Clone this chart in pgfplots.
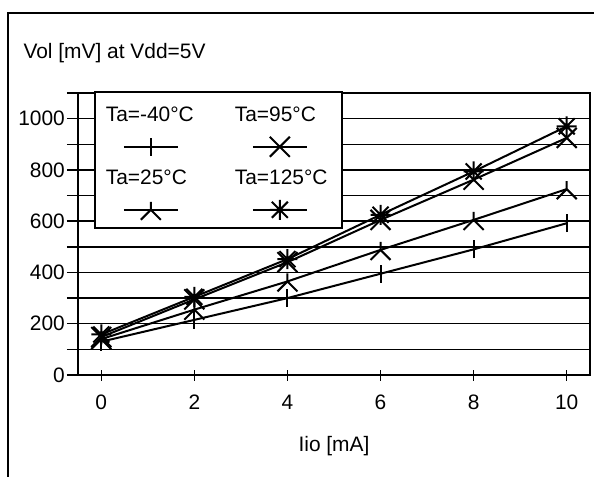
\documentclass[border=0pt]{standalone}
\usepackage{fontspec}
\setmainfont{Liberation Sans}
\usepackage{pgfplots}
\pgfplotsset{compat=1.18}

\pgfdeclareplotmark{vbar}{%
  \pgfpathmoveto{\pgfqpoint{0pt}{-\pgfplotmarksize}}%
  \pgfpathlineto{\pgfqpoint{0pt}{\pgfplotmarksize}}%
  \pgfusepathqstroke}
\pgfdeclareplotmark{arrowup}{%
  \pgfpathmoveto{\pgfqpoint{0pt}{0pt}}%
  \pgfpathlineto{\pgfqpoint{0pt}{0.8\pgfplotmarksize}}%
  \pgfpathmoveto{\pgfqpoint{-\pgfplotmarksize}{-\pgfplotmarksize}}%
  \pgfpathlineto{\pgfqpoint{0pt}{0pt}}%
  \pgfpathlineto{\pgfqpoint{\pgfplotmarksize}{-\pgfplotmarksize}}%
  \pgfusepathqstroke}
\pgfdeclareplotmark{bigx}{%
  \pgfpathmoveto{\pgfqpoint{-\pgfplotmarksize}{-\pgfplotmarksize}}%
  \pgfpathlineto{\pgfqpoint{\pgfplotmarksize}{\pgfplotmarksize}}%
  \pgfpathmoveto{\pgfqpoint{-\pgfplotmarksize}{\pgfplotmarksize}}%
  \pgfpathlineto{\pgfqpoint{\pgfplotmarksize}{-\pgfplotmarksize}}%
  \pgfusepathqstroke}
\pgfdeclareplotmark{star8}{%
  \pgfpathmoveto{\pgfqpoint{-\pgfplotmarksize}{0pt}}%
  \pgfpathlineto{\pgfqpoint{\pgfplotmarksize}{0pt}}%
  \pgfpathmoveto{\pgfqpoint{0pt}{-\pgfplotmarksize}}%
  \pgfpathlineto{\pgfqpoint{0pt}{\pgfplotmarksize}}%
  \pgfpathmoveto{\pgfqpoint{-.8\pgfplotmarksize}{-.8\pgfplotmarksize}}%
  \pgfpathlineto{\pgfqpoint{.8\pgfplotmarksize}{.8\pgfplotmarksize}}%
  \pgfpathmoveto{\pgfqpoint{-.8\pgfplotmarksize}{.8\pgfplotmarksize}}%
  \pgfpathlineto{\pgfqpoint{.8\pgfplotmarksize}{-.8\pgfplotmarksize}}%
  \pgfusepathqstroke}

\begin{document}
\begin{tikzpicture}
\useasboundingbox (-78bp,-102bp) rectangle (516bp,375bp);
\begin{axis}[
  scale only axis, width=512bp, height=282bp,
  clip=false,
  xmin=-0.5, xmax=10.5, ymin=0, ymax=1100,
  xtick={0,2,...,10},
  ytick={0,200,...,1000},
  minor ytick={100,300,...,1100},
  ymajorgrids, yminorgrids,
  major grid style={black, line width=1.5bp},
  minor grid style={black, line width=1.5bp},
  tick align=outside, tick pos=left,
  major tick length=11bp, minor tick length=11bp,
  every tick/.style={black, line width=1.5bp},
  xtick style={yshift=5.5bp},
  axis line style={line width=1.5bp},
  tick label style={font=\fontsize{21}{25}\selectfont},
  /pgf/number format/assume math mode=true,
  /pgf/number format/1000 sep={},
  xticklabel style={anchor=base, yshift=-23bp},
  yticklabel style={inner sep=2bp},
  ylabel={Vol [mV] at Vdd=5V},
  xlabel={Iio [mA]},
  every axis y label/.style={at={(rel axis cs:0,1)}, anchor=base west, xshift=-58bp, yshift=34bp, font=\fontsize{21}{25}\selectfont},
  every axis x label/.style={at={(rel axis cs:0.5,0)}, anchor=base, yshift=-76bp, font=\fontsize{21}{25}\selectfont},
  legend columns=2,
  legend style={
    at={(rel axis cs:0,1)}, anchor=north west, xshift=16bp, yshift=2bp,
    draw=black, fill=white, line width=1.6bp,
    inner xsep=0pt, inner ysep=5bp,
    column sep=11bp, row sep=0pt,
    cells={anchor=base west},
    nodes={inner sep=0pt, text width=107bp, text height=25bp, text depth=38bp, font=\fontsize{21}{25}\selectfont},
  },
  legend image code/.code={\draw[overlay,mark repeat=2,mark phase=2,#1] plot coordinates {(29bp,-25bp) (56bp,-25bp) (83bp,-25bp)};},
  series/.style={black, line width=2bp, mark options={solid, line width=2bp}},
]
\addplot[series, mark=vbar, mark size=9bp] coordinates {(0,130) (2,215) (4,300) (6,395) (8,490) (10,592)};
\addlegendentry{Ta=-40°C}
\addplot[series, mark=bigx, mark size=10bp] coordinates {(0,148) (2,295) (4,440) (6,605) (8,762) (10,925)};
\addlegendentry{Ta=95°C}
\addplot[series, mark=arrowup, mark size=10bp] coordinates {(0,140) (2,255) (4,365) (6,488) (8,605) (10,725)};
\addlegendentry{Ta=25°C}
\addplot[series, mark=star8, mark size=10bp] coordinates {(0,158) (2,305) (4,452) (6,625) (8,794) (10,970)};
\addlegendentry{Ta=125°C}
\draw[line width=2.6bp] (rel axis cs:0,0) -- (rel axis cs:1,0) -- (rel axis cs:1,1);
\draw[line width=2bp] (rel axis cs:0,0) -- (rel axis cs:0,1);
\end{axis}
\draw[line width=2.4bp] (-70bp,-110bp) -- (-70bp,362bp) -- (530bp,362bp);
\end{tikzpicture}
\end{document}
